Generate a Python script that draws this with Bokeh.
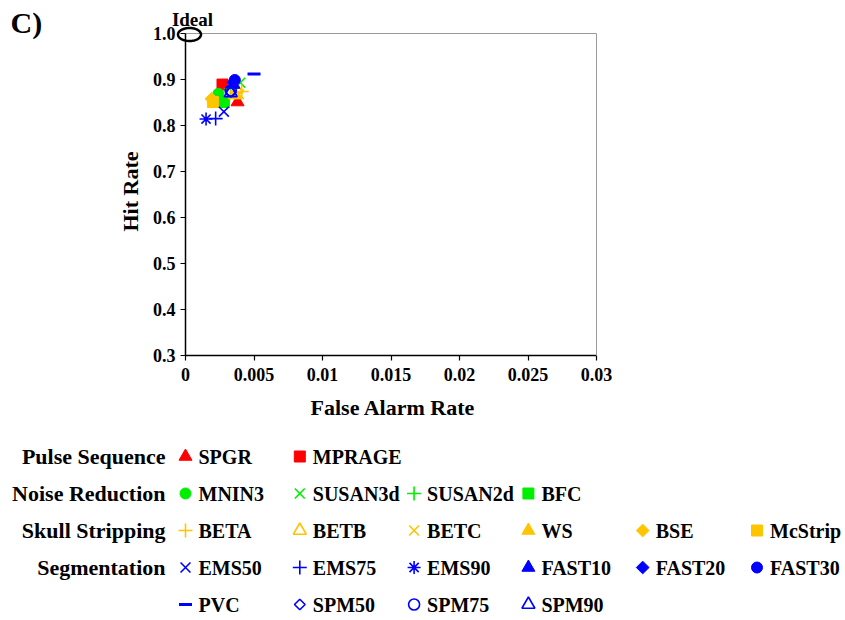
import math
import numpy as np
from bokeh.plotting import figure
from bokeh.models import (Range1d, FixedTicker, Label, PolyAnnotation, ColumnDataSource,
                          LinearAxis)
from bokeh.embed import file_html
from bokeh.resources import INLINE
from bokeh.core.properties import value

# ---------------- data ----------------
methods = ["SPGR", "MPRAGE",
           "MNIN3", "SUSAN3d", "SUSAN2d", "BFC",
           "BETA", "BETB", "BETC", "WS", "BSE", "McStrip",
           "EMS50", "EMS75", "EMS90", "FAST10", "FAST20", "FAST30",
           "PVC", "SPM50", "SPM75", "SPM90"]
groups = ["Pulse Sequence", "Noise Reduction", "Skull Stripping", "Segmentation"]
method_group = [0, 0,
                1, 1, 1, 1,
                2, 2, 2, 2, 2, 2,
                3, 3, 3, 3, 3, 3,
                3, 3, 3, 3]
false_alarm = [0.0038, 0.0027,
               0.0024, 0.0040, 0.0033, 0.0028,
               0.0041, 0.0037, 0.0039, 0.0036, 0.0019, 0.0020,
               0.0028, 0.0022, 0.0015, 0.0035, 0.0035, 0.0036,
               0.0050, 0.0033, 0.0033, 0.0033]
hit_rate = [0.851, 0.889,
            0.869, 0.893, 0.880, 0.851,
            0.874, 0.879, 0.868, 0.866, 0.858, 0.851,
            0.830, 0.815, 0.814, 0.889, 0.894, 0.899,
            0.912, 0.873, 0.876, 0.871]
ideal_x = 0.0
ideal_y = 1.0
x_ticks = [0, 0.005, 0.01, 0.015, 0.02, 0.025, 0.03]
x_tick_labels = ["0", "0.005", "0.01", "0.015", "0.02", "0.025", "0.03"]
y_ticks = [0.3, 0.4, 0.5, 0.6, 0.7, 0.8, 0.9, 1.0]
y_tick_labels = ["0.3", "0.4", "0.5", "0.6", "0.7", "0.8", "0.9", "1.0"]
x_title = "False Alarm Rate"
y_title = "Hit Rate"
panel_tag = "C)"
ideal_tag = "Ideal"

# ---------------- styles ----------------
RED, GREEN, GOLD, BLUE = "#ff0000", "#00ee00", "#ffc400", "#0000ff"
shapes = ["triangle", "square",
          "circle", "x", "cross", "square",
          "cross", "triangle", "x", "triangle", "diamond", "square",
          "x", "cross", "asterisk", "triangle", "diamond", "circle",
          "dash", "diamond", "circle", "triangle"]
colors = [RED] * 2 + [GREEN] * 4 + [GOLD] * 6 + [BLUE] * 10
filled = [1, 1,
          1, 0, 0, 1,
          0, 0, 0, 1, 1, 1,
          0, 0, 0, 1, 1, 1,
          0, 0, 0, 0]
size_of = {"triangle": 13, "square": 11, "circle": 11, "x": 14, "cross": 14,
           "asterisk": 13, "diamond": 9, "dash": 13}
# diamonds are drawn as squares turned by 45 degrees (wider than Bokeh's diamond)
markers = ["square" if s == "diamond" else s for s in shapes]
angles = [math.pi / 4 if s == "diamond" else 0.0 for s in shapes]
sizes = [size_of[s] for s in shapes]
for i, s in enumerate(shapes):
    if s == "diamond" and not filled[i]:
        sizes[i] = 7.5
fill_alphas = [1.0 if f else 0.0 for f in filled]
line_widths = [1.0 if f else 1.6 for f in filled]
for i, s in enumerate(shapes):
    if s == "dash":
        line_widths[i] = 2.8

FONT = "Liberation Serif"

# ---------------- layout geometry (canvas pixels) ----------------
W, H = 845, 620
PX_L, PX_R = 185, 596      # canvas x of the left / right end of the x axis
PY_T, PY_B = 33, 355       # canvas y of the top / bottom end of the y axis
X0, X1 = x_ticks[0], x_ticks[-1]
Y0, Y1 = y_ticks[0], y_ticks[-1]
sx = (X1 - X0) / (PX_R - PX_L)
sy = (Y1 - Y0) / (PY_B - PY_T)

p = figure(width=W, height=H,
           x_range=Range1d(X0 - PX_L * sx, X0 + (W - PX_L) * sx),
           y_range=Range1d(Y0 - (H - PY_B) * sy, Y0 + PY_B * sy),
           output_backend="svg", toolbar_location=None, min_border=0)
p.background_fill_color = "white"
p.border_fill_color = "white"
p.outline_line_color = None
p.grid.visible = False

p.xaxis.fixed_location = Y0
p.xaxis.bounds = (X0, X1)
p.yaxis.fixed_location = X0
p.yaxis.bounds = (Y0, Y1)
p.xaxis.ticker = FixedTicker(ticks=x_ticks)
p.xaxis.major_label_overrides = dict(zip(x_ticks, x_tick_labels))
p.yaxis.ticker = FixedTicker(ticks=y_ticks)
p.yaxis.major_label_overrides = dict(zip(y_ticks, y_tick_labels))
for ax in (p.xaxis[0], p.yaxis[0]):
    ax.axis_line_color = "black"
    ax.axis_line_width = 1.5
    ax.major_tick_line_color = "black"
    ax.major_tick_line_width = 1.2
    ax.major_tick_in = 0
    ax.major_tick_out = 5
    ax.minor_tick_line_color = None
    ax.major_label_text_font = FONT
    ax.major_label_text_font_style = "bold"
    ax.major_label_text_font_size = "18px"
    ax.major_label_text_color = "black"
p.xaxis.major_label_standoff = 7
p.yaxis.major_label_standoff = 5

# grey box lines on top and right
for loc, side, bnds in ((Y1, "above", (X0, X1)), (X1, "right", (Y0, Y1))):
    box_ax = LinearAxis(fixed_location=loc, bounds=bnds, ticker=FixedTicker(ticks=[]),
                        axis_line_color="#9a9a9a", axis_line_width=1,
                        major_tick_line_color=None, minor_tick_line_color=None,
                        major_label_text_font_size="0px")
    p.add_layout(box_ax, side)

src = ColumnDataSource(dict(x=false_alarm, y=hit_rate, marker=markers, color=colors,
                            fa=fill_alphas, size=sizes, lw=line_widths, ang=angles))
p.scatter("x", "y", source=src, marker="marker", size="size", angle="ang",
          line_color="color", fill_color="color", fill_alpha="fa", line_width="lw")

# axis titles
p.add_layout(Label(x=(X0 + X1) / 2, y=Y0, x_offset=2, y_offset=-52, text=x_title,
                   text_font=FONT, text_font_style="bold", text_font_size="22px",
                   text_align="center", text_baseline="middle", text_color="black"))
p.add_layout(Label(x=X0, y=(Y0 + Y1) / 2, x_offset=-55, y_offset=3, text=y_title,
                   angle=math.pi / 2,
                   text_font=FONT, text_font_style="bold", text_font_size="22px",
                   text_align="center", text_baseline="middle", text_color="black"))

# ideal point ellipse
t = np.linspace(0, 2 * math.pi, 72)
ell_xs = list(ideal_x + (4 + 11.5 * np.cos(t)) * sx)
ell_ys = list(ideal_y + (-1 + 6.5 * np.sin(t)) * sy)
p.add_layout(PolyAnnotation(xs=ell_xs, ys=ell_ys, fill_alpha=0, fill_color=None,
                            line_color="black", line_alpha=1.0, line_width=2.5))
p.add_layout(Label(x=ideal_x, y=ideal_y, x_offset=7, y_offset=14, text=ideal_tag,
                   text_font=FONT, text_font_style="bold", text_font_size="19px",
                   text_align="center", text_baseline="middle", text_color="black"))
p.add_layout(Label(x=X0, y=Y1, x_offset=-(PX_L - 10), y_offset=11, text=panel_tag,
                   text_font=FONT, text_font_style="bold", text_font_size="30px",
                   text_align="left", text_baseline="middle", text_color="black"))

# ---------------- legend (own ranges: column / row index) ----------------
PER_ROW = 6
counts = [method_group.count(g) for g in range(len(groups))]
row_start = []
r = 0
for c in counts:
    row_start.append(r)
    r += math.ceil(c / PER_ROW)

leg_col, leg_row = [], []
seen = [0] * len(groups)
for g in method_group:
    k = seen[g]
    seen[g] += 1
    leg_col.append(k % PER_ROW)
    leg_row.append(row_start[g] + k // PER_ROW)

COL0_PX, COL_W = 185, 114.3
ROW0_PY, ROW_H = 456, 37.0
p.extra_x_ranges = {"lx": Range1d(-COL0_PX / COL_W, (W - COL0_PX) / COL_W)}
p.extra_y_ranges = {"ly": Range1d((H - ROW0_PY) / ROW_H, -ROW0_PY / ROW_H)}

lsrc = ColumnDataSource(dict(x=leg_col, y=leg_row, marker=markers, color=colors,
                             fa=fill_alphas, size=sizes, lw=line_widths, ang=angles,
                             label=methods))
p.scatter("x", "y", source=lsrc, marker="marker", size="size", angle="ang",
          line_color="color", fill_color="color", fill_alpha="fa", line_width="lw",
          x_range_name="lx", y_range_name="ly")
p.text("x", "y", text="label", source=lsrc, x_offset=13,
       text_font=value(FONT), text_font_style="bold", text_font_size="20px",
       text_align="left", text_baseline="middle", text_color="black",
       x_range_name="lx", y_range_name="ly")
gsrc = ColumnDataSource(dict(x=[0] * len(groups), y=row_start, label=groups))
p.text("x", "y", text="label", source=gsrc, x_offset=-20,
       text_font=value(FONT), text_font_style="bold", text_font_size="22px",
       text_align="right", text_baseline="middle", text_color="black",
       x_range_name="lx", y_range_name="ly")

open("out.html", "w").write(file_html(p, INLINE))
